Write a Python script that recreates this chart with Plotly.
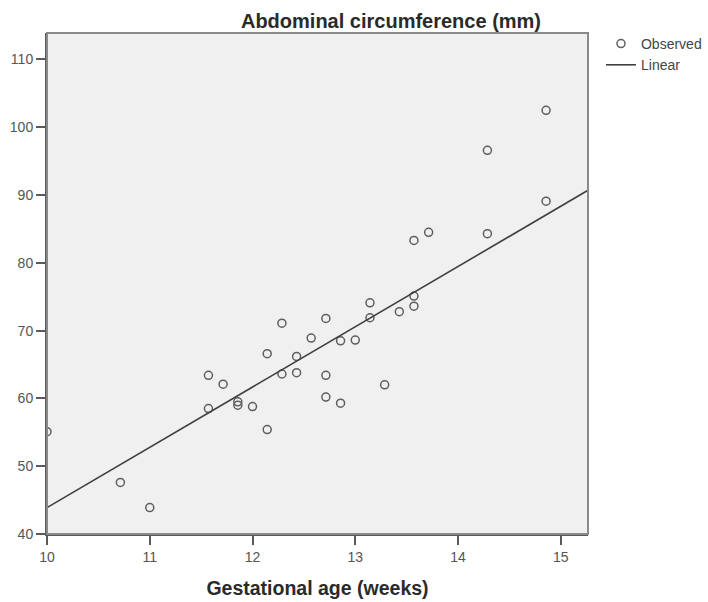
import plotly.graph_objects as go

# Observed data: gestational age (weeks) and abdominal circumference (mm)
ga_weeks = [10.0, 10.714, 11.0, 11.571, 11.571, 11.714, 11.857, 11.857, 12.0,
            12.143, 12.143, 12.286, 12.286, 12.429, 12.429, 12.571, 12.714,
            12.714, 12.714, 12.857, 12.857, 13.0, 13.143, 13.143, 13.286,
            13.429, 13.571, 13.571, 13.571, 13.714, 14.286, 14.286, 14.857,
            14.857]
ac_mm = [55.1, 47.6, 43.9, 63.4, 58.5, 62.1, 59.5, 59.0, 58.8,
         66.6, 55.4, 71.1, 63.6, 66.2, 63.8, 68.9, 71.8,
         63.4, 60.2, 68.5, 59.3, 68.6, 74.1, 71.9, 62.0,
         72.8, 83.3, 75.1, 73.6, 84.5, 96.6, 84.3, 102.5,
         89.1]

# Linear fit line (endpoints)
fit_x = [10.0, 15.265]
fit_y = [43.9, 90.7]

x_ticks = [10, 11, 12, 13, 14, 15]
y_ticks = [40, 50, 60, 70, 80, 90, 100, 110]

x_range = [10.0, 15.265]
y_range = [40.0, 113.9]

W, H = 708, 602

fig = go.Figure()
fig.add_trace(go.Scatter(
    x=ga_weeks, y=ac_mm, mode="markers", name="Observed",
    marker=dict(symbol="circle-open", size=8, color="#5e5e5e",
                line=dict(width=1.5, color="#5e5e5e")),
))
fig.add_trace(go.Scatter(
    x=fit_x, y=fit_y, mode="lines", name="Linear",
    line=dict(color="#404040", width=1.6),
))

fig.add_shape(type="rect", xref="paper", yref="paper", x0=0, x1=1, y0=0, y1=1,
              line=dict(color="#8a8a8a", width=2), layer="above")

fig.update_layout(
    width=W, height=H,
    margin=dict(l=47, r=120, t=33, b=68, autoexpand=False),
    paper_bgcolor="#ffffff",
    plot_bgcolor="#f0f0f0",
    font=dict(family="Liberation Sans, Arial, sans-serif", color="#555555"),
    title=dict(text="<b>Abdominal circumference (mm)</b>",
               x=391 / W, xanchor="center", xref="container",
               y=1 - 21 / H, yanchor="middle", yref="container",
               font=dict(size=20, color="#2a2a2a")),
    showlegend=True,
    legend=dict(x=1.024, xanchor="left", y=1.01, yanchor="top",
                font=dict(size=14, color="#444444"),
                itemwidth=30, bgcolor="rgba(0,0,0,0)", tracegroupgap=0),
    xaxis=dict(range=x_range, tickvals=x_ticks, ticktext=[str(v) for v in x_ticks],
               showgrid=False, zeroline=False, showline=True, linecolor="#5a5a5a",
               linewidth=2, ticks="outside", ticklen=9, tickwidth=2,
               tickcolor="#5a5a5a", tickfont=dict(size=14, color="#555555"),
               title=dict(text="<b>Gestational age (weeks)</b>", standoff=18,
                          font=dict(size=19.5, color="#2a2a2a"))),
    yaxis=dict(range=y_range, tickvals=y_ticks, ticktext=[str(v) for v in y_ticks],
               showgrid=False, zeroline=False, showline=True, linecolor="#5a5a5a",
               linewidth=2, ticks="outside", ticklen=9, tickwidth=2,
               tickcolor="#5a5a5a", tickfont=dict(size=14, color="#555555")),
)

fig.write_html("out.html",
               config={"displayModeBar": False},
               post_script="document.body.style.margin='0';"
                           "document.body.style.overflow='hidden';")
